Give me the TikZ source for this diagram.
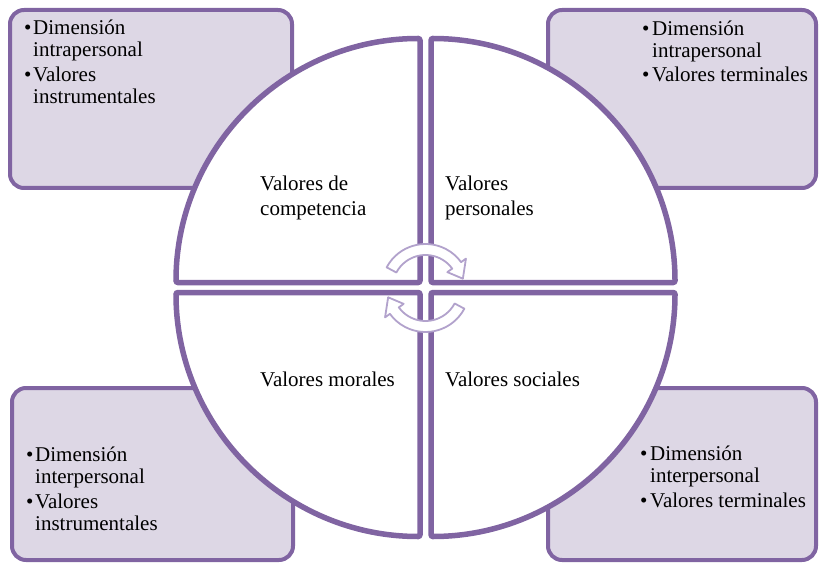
\documentclass[tikz,border=0pt]{standalone}
\usepackage{fontspec}
\setmainfont{Liberation Serif}
\definecolor{purp}{RGB}{128,100,162}
\definecolor{lav}{RGB}{221,215,229}
\definecolor{arrowc}{RGB}{178,162,204}
\begin{document}
\begin{tikzpicture}[x=1pt,y=-1pt,
  cornerbox/.style={draw=purp, fill=lav, line width=4, rounded corners=14},
  quad/.style={draw=purp, fill=white, line width=5.5, rounded corners=2},
  txt/.style={anchor=base west, inner sep=0, font=\fontsize{21}{22}\selectfont},
  cycarr/.style={fill=white, draw=arrowc, line width=1.8, line join=round}]
\useasboundingbox (0,0) rectangle (819,564);
% corner boxes
\draw[cornerbox] (10,10) rectangle (292,188);
\draw[cornerbox] (548,10) rectangle (816,188);
\draw[cornerbox] (12,388) rectangle (293,560);
\draw[cornerbox] (548,388) rectangle (816,560);
% quadrants
\def\R{244}
\draw[quad] (420,282.5) -- ++(-\R,0) arc[start angle=180,end angle=270,radius=\R] -- cycle;
\draw[quad] (431,282.5) -- ++(0,-\R) arc[start angle=270,end angle=360,radius=\R] -- cycle;
\draw[quad] (431,292.5) -- ++(\R,0) arc[start angle=0,end angle=90,radius=\R] -- cycle;
\draw[quad] (420,292.5) -- ++(0,\R) arc[start angle=90,end angle=180,radius=\R] -- cycle;
% circular arrows
\coordinate (cc) at (425.5,288);
\newcommand\cycarrow[3]{%
  \draw[cycarr] ([shift={(cc)}]#1:44) arc[start angle=#1,end angle=#2,radius=44]
    -- ([shift={(cc)}]#2:50) -- ([shift={(cc)}]#3:38.5) -- ([shift={(cc)}]#2:27)
    -- ([shift={(cc)}]#2:33) arc[start angle=#2,end angle=#1,radius=33] -- cycle;}
\cycarrow{-152}{-36}{-14}
\cycarrow{28}{144}{166}
% box texts
\node[txt] (tlb1) at (24,35) {•};
\node[txt] (tl1) at (33,35) {Dimensión};
\node[txt] (tl2) at (33,57) {intrapersonal};
\node[txt] (tlb2) at (24,82) {•};
\node[txt] (tl3) at (33,82) {Valores};
\node[txt] (tl4) at (33,104) {instrumentales};
\node[txt] (trb1) at (642,36) {•};
\node[txt] (tr1) at (652,36) {Dimensión};
\node[txt] (tr2) at (652,58) {intrapersonal};
\node[txt] (trb2) at (642,82) {•};
\node[txt] (tr3) at (652,82) {Valores terminales};
\node[txt] (blb1) at (26,461) {•};
\node[txt] (bl1) at (35,461) {Dimensión};
\node[txt] (bl2) at (35,483) {interpersonal};
\node[txt] (blb2) at (26,508) {•};
\node[txt] (bl3) at (35,508) {Valores};
\node[txt] (bl4) at (35,530) {instrumentales};
\node[txt] (brb1) at (640,460) {•};
\node[txt] (br1) at (650,460) {Dimensión};
\node[txt] (br2) at (650,482) {interpersonal};
\node[txt] (brb2) at (640,507) {•};
\node[txt] (br3) at (650,507) {Valores terminales};
% quadrant labels
\node[txt] (q1a) at (260,191) {Valores de};
\node[txt] (q1b) at (260,215) {competencia};
\node[txt] (q2a) at (445,191) {Valores};
\node[txt] (q2b) at (445,215) {personales};
\node[txt] (q3) at (260,386) {Valores morales};
\node[txt] (q4) at (445,386) {Valores sociales};
\end{tikzpicture}
\end{document}
